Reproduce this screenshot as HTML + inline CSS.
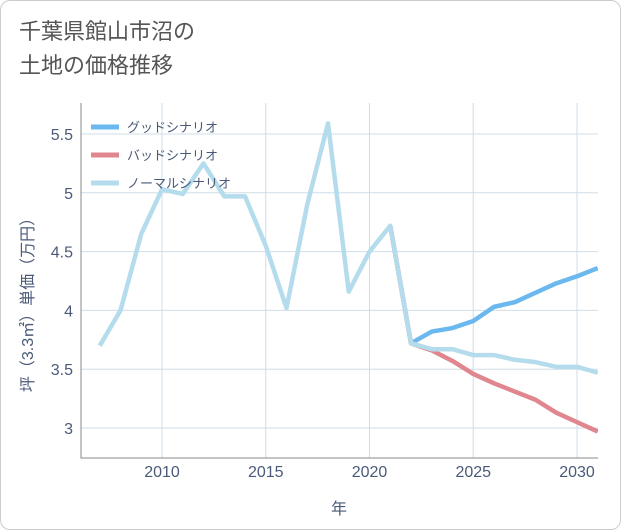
<!DOCTYPE html>
<html><head><meta charset="utf-8"><style>
body{margin:0;background:#fff;}
.card{position:absolute;left:0;top:0;width:619px;height:528px;border:1px solid #ccc;border-radius:10px;background:#fff;}
.title{position:absolute;left:18px;top:14px;font:22px "Liberation Sans","Noto Sans CJK JP",sans-serif;color:#555;line-height:34px;}
svg text{font-family:"Liberation Sans","Noto Sans CJK JP",sans-serif;}
</style></head><body>
<div class="card">
<div class="title">千葉県館山市沼の<br>土地の価格推移</div>
<svg id="c" width="621" height="530" style="position:absolute;left:0;top:0"></svg>
</div>
<script>
const years=[2007,2008,2009,2010,2011,2012,2013,2014,2015,2016,2017,2018,2019,2020,2021,2022,2023,2024,2025,2026,2027,2028,2029,2030,2031];
const normalVals=[3.7,4.0,4.65,5.03,4.99,5.25,4.97,4.97,4.55,4.02,4.9,5.59,4.16,4.5,4.72,3.72,3.67,3.67,3.62,3.62,3.58,3.56,3.52,3.52,3.47];
const futureYears=[2021,2022,2023,2024,2025,2026,2027,2028,2029,2030,2031];
const goodVals=[4.72,3.72,3.82,3.85,3.91,4.03,4.07,4.15,4.23,4.29,4.36];
const badVals=[4.72,3.72,3.66,3.57,3.46,3.38,3.31,3.24,3.13,3.05,2.97];
const xTicks=[2010,2015,2020,2025,2030];
const yTicks=[3,3.5,4,4.5,5,5.5];
const yTickLabels=["3","3.5","4","4.5","5","5.5"];
const legendLabels=["グッドシナリオ","バッドシナリオ","ノーマルシナリオ"];
const colors=["#6bb8ee","#e0868e","#b4dced"];
const L=80,R=597,T=102,B=457;
const x=v=>161+(v-2010)*20.75;
const y=v=>427-(v-3)*117.6;
const s=document.getElementById('c');
const NS='http://www.w3.org/2000/svg';
function mk(t,a,p){const e=document.createElementNS(NS,t);for(const k in a)e.setAttribute(k,a[k]);(p||s).appendChild(e);return e;}
xTicks.forEach(t=>{const l=mk('line',{x1:x(t),x2:x(t),y1:T,y2:B,stroke:'#cfdde8'});

const tx=mk('text',{x:x(t),y:476,'text-anchor':'middle','font-size':16,fill:'#4a5a78'});tx.textContent=t;
});
yTicks.forEach((t,i)=>{const l=mk('line',{x1:L,x2:R,y1:y(t),y2:y(t),stroke:'#cfdde8'});

const tx=mk('text',{x:72,y:y(t)+6,'text-anchor':'end','font-size':16,fill:'#4a5a78'});tx.textContent=yTickLabels[i];
});
const ax=mk('path',{d:`M${L} ${T}V${B}H${R}`,fill:'none',stroke:'#888'});

const clip=mk('clipPath',{id:'cp'});mk('rect',{x:L,y:T,width:R-L,height:B-T},clip);
const g=mk('g',{'clip-path':'url(#cp)'});
function line2(xs,vs,c,n){const p=mk('path',{d:xs.map((v,i)=>(i?'L':'M')+x(v)+' '+y(vs[i])).join(''),fill:'none',stroke:c,'stroke-width':4.5,'stroke-linejoin':'round'},g);
}
line2(futureYears,goodVals,colors[0],'good-scenario-line');
line2(futureYears,badVals,colors[1],'bad-scenario-line');
line2(years,normalVals,colors[2],'normal-scenario-line');
legendLabels.forEach((lb,i)=>{const yy=126+i*28;
const l=mk('line',{x1:90,x2:118,y1:yy,y2:yy,stroke:colors[i],'stroke-width':5});

const t=mk('text',{x:126,y:yy+5,'font-size':13,fill:'#4a5a78'});t.textContent=lb;
});
const xt=mk('text',{x:338,y:513,'text-anchor':'middle','font-size':16,fill:'#4a5a78'});xt.textContent='年';

const yt=mk('text',{x:0,y:0,'text-anchor':'middle','font-size':16,fill:'#4a5a78',transform:'translate(32 300) rotate(-90)'});yt.textContent='坪（3.3㎡）単価（万円）';

</script>
</body></html>
